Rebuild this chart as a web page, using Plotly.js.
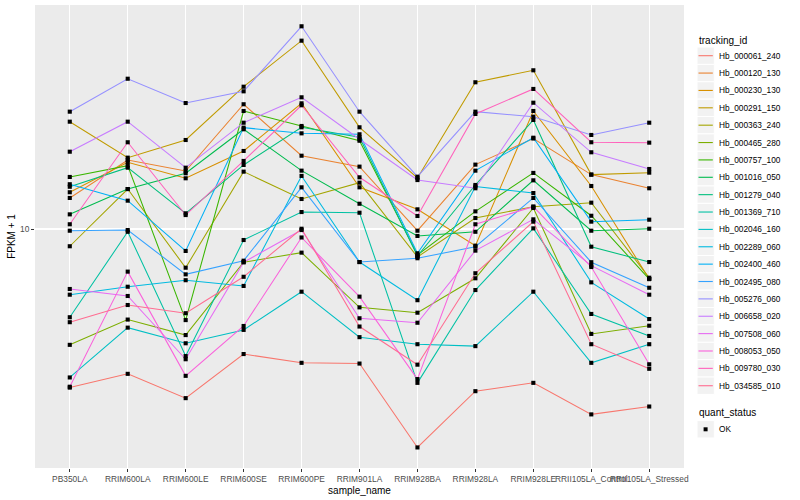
<!DOCTYPE html>
<html><head><meta charset="utf-8">
<script src="https://cdn.plot.ly/plotly-3.0.1.min.js"></script>
<style>html,body{margin:0;padding:0;background:#fff}#chart{width:800px;height:500px}</style>
</head><body><div id="chart"></div>
<script>
const categories = ['PB350LA','RRIM600LA','RRIM600LE','RRIM600SE','RRIM600PE','RRIM901LA','RRIM928BA','RRIM928LA','RRIM928LE','RRII105LA_Control','RRII105LA_Stressed'];
const trackingIds = ['Hb_000061_240','Hb_000120_130','Hb_000230_130','Hb_000291_150','Hb_000363_240','Hb_000465_280','Hb_000757_100','Hb_001016_050','Hb_001279_040','Hb_001369_710','Hb_002046_160','Hb_002289_060','Hb_002400_460','Hb_002495_080','Hb_005276_060','Hb_006658_020','Hb_007508_060','Hb_008053_050','Hb_009780_030','Hb_034585_010'];
const colors = ['#F8766D','#EA8331','#D89000','#C09B00','#A3A500','#7CAE00','#39B600','#00BB4E','#00BF7D','#00C1A3','#00BFC4','#00BAE0','#00B0F6','#35A2FF','#9590FF','#C77CFF','#E76BF3','#FA62DB','#FF62BC','#FF6C91'];

// FPKM + 1 per sample, in category order
const Hb_000061_240 = [2.96, 3.29, 2.73, 3.83, 3.58, 3.56, 1.87, 2.88, 3.07, 2.41, 2.56];
const Hb_000120_130 = [12.69, 16.99, 15.61, 26.05, 17.55, 16.14, 9.87, 16.39, 20.03, 15.18, 13.67];
const Hb_000230_130 = [13.26, 16.69, 14.76, 18.20, 26.24, 13.77, 11.63, 8.80, 24.74, 13.91, 6.81];
const Hb_000291_150 = [22.79, 17.29, 19.80, 29.81, 42.44, 21.83, 14.79, 30.84, 33.81, 15.18, 15.41];
const Hb_000363_240 = [8.76, 13.59, 7.43, 15.53, 12.59, 14.27, 8.07, 10.88, 11.87, 12.24, 6.88];
const Hb_000465_280 = [4.11, 4.99, 4.43, 7.75, 8.34, 5.48, 5.26, 6.85, 11.75, 4.47, 4.76];
const Hb_000757_100 = [14.91, 16.26, 4.97, 24.74, 22.05, 19.69, 8.19, 11.45, 15.38, 11.07, 6.81];
const Hb_001016_050 = [11.19, 13.59, 15.34, 21.50, 15.65, 12.14, 9.48, 9.79, 14.53, 9.87, 10.02];
const Hb_001279_040 = [13.83, 16.01, 11.28, 16.35, 21.83, 20.22, 8.13, 14.02, 23.09, 8.73, 7.76];
const Hb_001369_710 = [5.08, 9.79, 3.77, 9.19, 11.39, 11.33, 3.07, 6.26, 10.05, 5.21, 4.40];
const Hb_002046_160 = [3.20, 4.69, 4.16, 4.61, 6.18, 4.36, 4.13, 4.07, 6.18, 3.58, 4.13];
const Hb_002289_060 = [6.04, 6.42, 6.75, 6.46, 15.03, 7.76, 5.79, 13.86, 13.18, 6.64, 5.01];
const Hb_002400_460 = [14.10, 12.43, 8.45, 21.77, 20.84, 20.69, 8.30, 15.65, 20.15, 10.58, 10.74];
const Hb_002495_080 = [9.87, 9.92, 7.06, 7.84, 13.77, 7.76, 7.99, 8.73, 12.69, 7.75, 6.37];
const Hb_005276_060 = [24.61, 31.69, 26.30, 28.77, 47.40, 24.61, 14.94, 24.61, 23.68, 20.58, 22.61];
const Hb_006658_020 = [18.10, 22.79, 16.01, 22.61, 27.48, 19.91, 14.56, 13.67, 26.36, 18.02, 15.85];
const Hb_007508_060 = [6.31, 5.98, 3.68, 7.75, 9.92, 5.04, 4.87, 8.47, 10.77, 7.55, 6.04];
const Hb_008053_050 = [2.98, 7.21, 3.24, 4.75, 9.37, 5.95, 3.16, 10.37, 11.87, 7.47, 3.54];
const Hb_009780_030 = [10.37, 19.46, 11.13, 16.86, 25.85, 14.87, 11.05, 24.18, 29.30, 19.46, 19.40];
const Hb_034585_010 = [4.89, 5.58, 5.24, 6.93, 10.02, 4.73, 3.53, 7.12, 10.58, 4.13, 3.42];

const seriesValues = [Hb_000061_240, Hb_000120_130, Hb_000230_130, Hb_000291_150, Hb_000363_240, Hb_000465_280, Hb_000757_100, Hb_001016_050, Hb_001279_040, Hb_001369_710, Hb_002046_160, Hb_002289_060, Hb_002400_460, Hb_002495_080, Hb_005276_060, Hb_006658_020, Hb_007508_060, Hb_008053_050, Hb_009780_030, Hb_034585_010];
const quantStatus = ['OK'];
const yTickVals = [10];
const yTickText = ['10'];

// layout geometry (pixels of the 800x500 page)
const PL = 35, PR = 684, PT = 5, PB = 468;
const fx = p => (p - PL) / (PR - PL);
const fy = p => (PB - p) / (PB - PT);

const traces = [];
trackingIds.forEach((id, i) => {
  traces.push({type:'scatter', mode:'lines', x:categories, y:seriesValues[i], name:id,
    line:{color:colors[i], width:1.05}, showlegend:false, hoverinfo:'x+y+name'});
});
trackingIds.forEach((id, i) => {
  traces.push({type:'scatter', mode:'markers', x:categories, y:seriesValues[i], name:id + ' ' + quantStatus[0],
    marker:{symbol:'square', size:4.1, color:'black'}, showlegend:false, hoverinfo:'skip'});
});

const shapes = [], annotations = [];
const keyH = 17.37, firstY = 55.7, keyX0 = 697, keyX1 = 714.3;
annotations.push({xref:'paper', yref:'paper', x:fx(696.5), y:fy(40.5), xanchor:'left', yanchor:'middle',
  text:'tracking_id', showarrow:false, font:{size:10, color:'black'}});
trackingIds.forEach((id, i) => {
  const yc = firstY + keyH * i;
  shapes.push({type:'rect', xref:'paper', yref:'paper', x0:fx(keyX0), x1:fx(keyX1), y0:fy(yc - keyH/2), y1:fy(yc + keyH/2),
    fillcolor:'#F2F2F2', line:{color:'white', width:1}, layer:'above'});
  shapes.push({type:'line', xref:'paper', yref:'paper', x0:fx(keyX0 + 1.5), x1:fx(keyX1 - 1.5), y0:fy(yc), y1:fy(yc),
    line:{color:colors[i], width:1.1}, layer:'above'});
  annotations.push({xref:'paper', yref:'paper', x:fx(716.5), y:fy(yc), xanchor:'left', yanchor:'middle',
    text:id, showarrow:false, font:{size:8.3, color:'black'}});
});
annotations.push({xref:'paper', yref:'paper', x:fx(696.5), y:fy(412.7), xanchor:'left', yanchor:'middle',
  text:'quant_status', showarrow:false, font:{size:10, color:'black'}});
const okY = 429.3;
shapes.push({type:'rect', xref:'paper', yref:'paper', x0:fx(keyX0), x1:fx(keyX1), y0:fy(okY - keyH/2), y1:fy(okY + keyH/2),
  fillcolor:'#F2F2F2', line:{color:'white', width:1}, layer:'above'});
shapes.push({type:'rect', xref:'paper', yref:'paper', x0:fx(703.6), x1:fx(707.6), y0:fy(okY - 2), y1:fy(okY + 2),
  fillcolor:'black', line:{width:0}, layer:'above'});
annotations.push({xref:'paper', yref:'paper', x:fx(716.5), y:fy(okY), xanchor:'left', yanchor:'middle',
  text:quantStatus[0], showarrow:false, font:{size:8.3, color:'black'}});

const layout = {
  width:800, height:500,
  margin:{l:35, r:116, t:5, b:32, pad:0},
  paper_bgcolor:'white', plot_bgcolor:'#EBEBEB',
  font:{family:'Liberation Sans, Arial, Helvetica, sans-serif', size:8, color:'#4D4D4D'},
  showlegend:false,
  xaxis:{type:'category', categoryorder:'array', categoryarray:categories, range:[-0.6, 10.6],
    showgrid:true, gridcolor:'white', gridwidth:1.1, zeroline:false, showline:false,
    ticks:'outside', ticklen:3, tickwidth:1, tickcolor:'#333333', tickangle:0,
    tickfont:{size:8.4, color:'#4D4D4D'}, automargin:false,
    title:{text:'sample_name', font:{size:10, color:'black'}, standoff:3}},
  yaxis:{type:'log', range:[0.2033, 1.7467], tickmode:'array', tickvals:yTickVals, ticktext:yTickText,
    showgrid:true, gridcolor:'white', gridwidth:1.1, zeroline:false, showline:false,
    ticks:'outside', ticklen:3, tickwidth:1, tickcolor:'#333333',
    tickfont:{size:8.4, color:'#4D4D4D'}, automargin:false,
    title:{text:'FPKM + 1', font:{size:10, color:'black'}, standoff:2}},
  shapes:shapes, annotations:annotations
};
Plotly.newPlot('chart', traces, layout, {displayModeBar:false, staticPlot:true});
</script></body></html>
